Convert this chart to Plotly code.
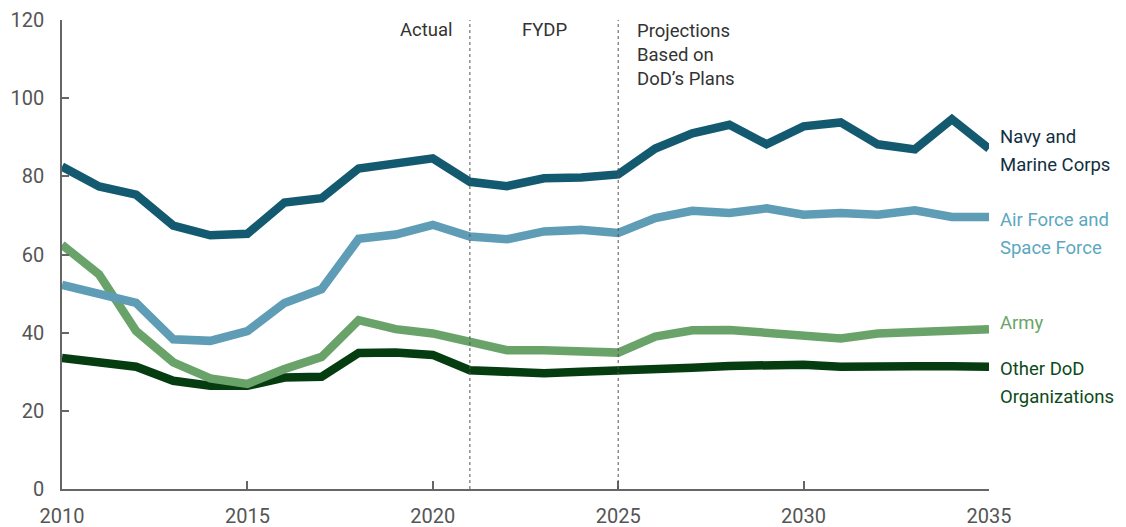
import plotly.graph_objects as go

# years on the x axis
years = list(range(2010, 2036))

# values
navy = [82.5, 77.4, 75.3, 67.4, 64.9, 65.3, 73.3, 74.4, 82.0, 83.3,
        84.6, 78.6, 77.5, 79.5, 79.7, 80.5, 87.1, 91.0, 93.2, 88.2,
        92.8, 93.8, 88.2, 86.9, 94.6, 87.1]
air_force = [52.2, 49.9, 47.6, 38.3, 37.9, 40.4, 47.6, 51.1, 64.0, 65.1,
             67.6, 64.6, 63.9, 65.9, 66.3, 65.5, 69.3, 71.2, 70.6, 71.8,
             70.2, 70.6, 70.2, 71.3, 69.6, 69.6]
army = [62.5, 54.9, 40.4, 32.4, 28.3, 26.9, 30.7, 33.8, 43.2, 40.9,
        39.8, 37.9, 35.5, 35.5, 35.3, 34.9, 39.0, 40.6, 40.7, 40.0,
        39.3, 38.5, 39.8, 40.2, 40.4, 40.9]
other_dod = [33.5, 32.4, 31.3, 27.7, 26.4, 26.4, 28.5, 28.7, 34.8, 34.9,
             34.3, 30.4, 30.1, 29.6, 30.0, 30.2, 30.9, 31.0, 31.5, 31.8,
             31.8, 31.3, 31.1, 31.4, 31.4, 31.3]

# (label lines, values, line colour, text colour, label centre in data units)
series = [
    (["Navy and", "Marine Corps"], navy, "#135a70", "#12303f", 86.5),
    (["Air Force and", "Space Force"], air_force, "#5e9db5", "#5ba8c0", 65.2),
    (["Army"], army, "#6aa36a", "#6aa56a", 42.5),
    (["Other DoD", "Organizations"], other_dod, "#053d11", "#0d4a1a", 27.1),
]

period_lines = [2021, 2025]

font_fam = "Roboto, Open Sans, sans-serif"
line_gap = 7.3  # label line spacing, in data units

fig = go.Figure()

# draw the last-listed (other DoD) first so navy sits on top like the original
for lines, vals, col, txtcol, ylab in series[::-1]:
    fig.add_trace(go.Scatter(
        x=years, y=vals, mode="lines", name=" ".join(lines),
        line=dict(color=col, width=8.5), showlegend=False,
    ))

# labels sit right of the plot, so use paper coords (data coords get hidden off-range)
for lines, vals, col, txtcol, ylab in series:
    top = ylab + line_gap * (len(lines) - 1) / 2
    for i, t in enumerate(lines):
        fig.add_annotation(
            x=1.010, y=(top - i * line_gap) / 120, xref="paper", yref="paper", text=t,
            showarrow=False, xanchor="left", yanchor="middle", align="left",
            font=dict(family=font_fam, size=18.5, color=txtcol),
        )

for yr in period_lines:
    fig.add_shape(type="line", x0=yr, x1=yr, y0=0, y1=120, xref="x", yref="y",
                  line=dict(color="#555555", width=1, dash="dot"))

txt = dict(family=font_fam, size=18.5, color="#333333")
fig.add_annotation(x=2020.6, y=117.5, text="Actual", showarrow=False,
                   xanchor="right", yanchor="middle", font=txt)
fig.add_annotation(x=2023, y=117.5, text="FYDP", showarrow=False,
                   xanchor="center", yanchor="middle", font=txt)
fig.add_annotation(x=2025.45, y=117.5, text="Projections<br>Based on<br>DoD’s Plans",
                   showarrow=False, xanchor="left", yanchor="top", align="left",
                   yshift=12, font=txt)

# page body has an 8px margin, so the figure is a little smaller than the window
fig.update_layout(
    width=1118, height=519,
    margin=dict(l=54, r=137, t=12, b=38),
    paper_bgcolor="white", plot_bgcolor="white",
    font=dict(family=font_fam, size=20, color="#555555"),
)
fig.update_xaxes(
    range=[2010, 2035], tickvals=[2010, 2015, 2020, 2025, 2030, 2035],
    showgrid=False, zeroline=False, showline=True, linecolor="#666666", linewidth=1.5,
    ticks="inside", ticklen=8, tickcolor="#666666", tickwidth=1.5,
    ticklabelstandoff=8, tickfont=dict(size=20, color="#555555"), automargin=False,
    ticklabeloverflow="allow",
)
fig.update_yaxes(
    range=[0, 120], tickvals=[0, 20, 40, 60, 80, 100, 120],
    showgrid=False, zeroline=False, showline=True, linecolor="#666666", linewidth=1.5,
    ticks="inside", ticklen=7, tickcolor="#666666", tickwidth=1.5,
    ticklabelstandoff=12, tickfont=dict(size=20, color="#555555"), automargin=False,
    ticklabeloverflow="allow",
)

fig.write_html("out.html")
